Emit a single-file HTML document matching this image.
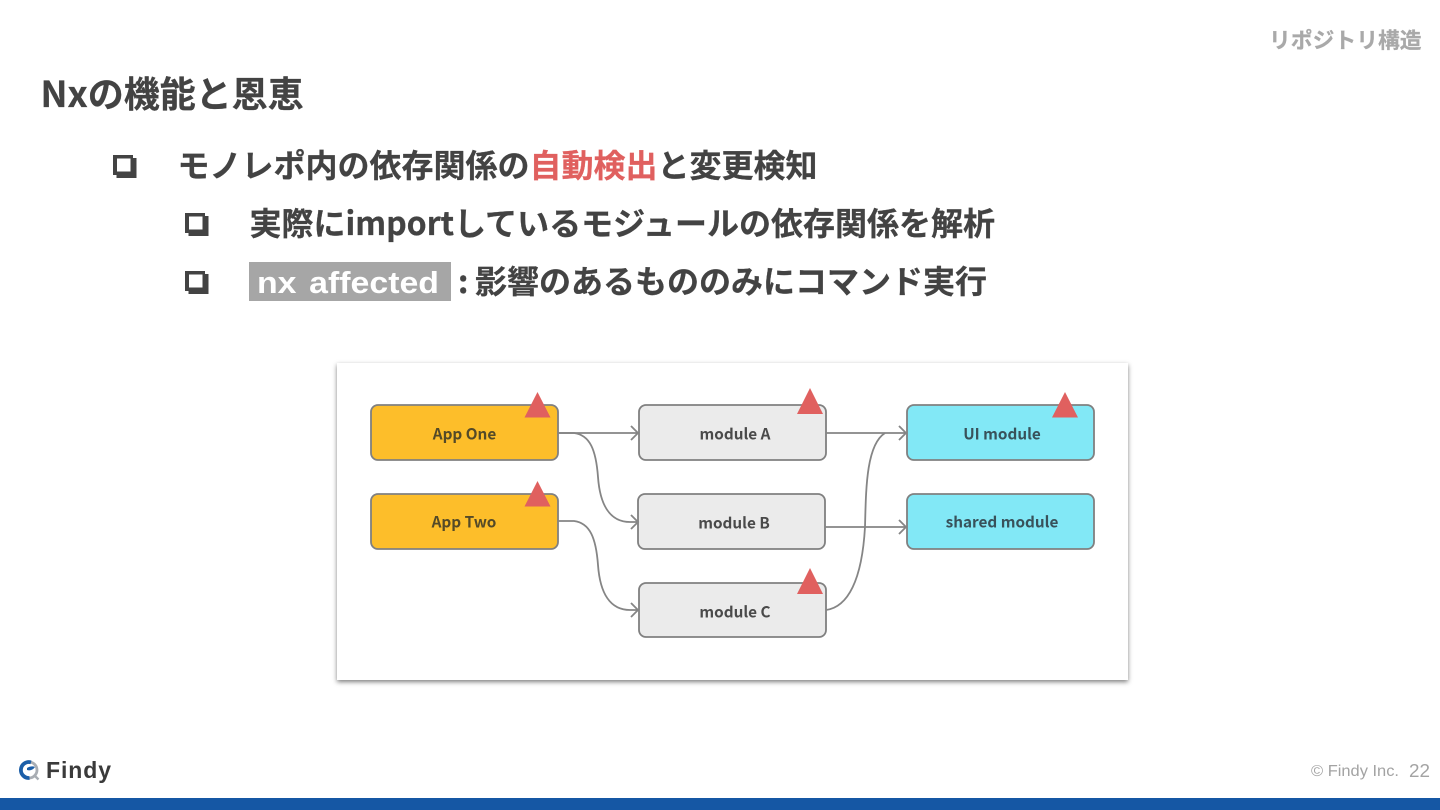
<!DOCTYPE html>
<html lang="ja">
<head>
<meta charset="utf-8">
<style>
html,body{margin:0;padding:0;background:#fff;width:1440px;height:810px;overflow:hidden}
svg{display:block;position:absolute;left:0;top:0}
.j{font-family:"Noto Sans CJK JP",sans-serif;font-weight:700;fill:#434343;stroke:#434343;stroke-width:.25}
.n{font-family:"Noto Sans CJK JP",sans-serif;font-weight:700;font-size:15.3px;text-anchor:middle}
.box{stroke:#808080;stroke-width:1.8}
.c{fill:none;stroke:#858585;stroke-width:1.8}
.tri{fill:#e0605f}
</style>
</head>
<body>
<svg width="1440" height="810" viewBox="0 0 1440 810" xmlns="http://www.w3.org/2000/svg">
<defs>
<filter id="sh" x="-5%" y="-5%" width="110%" height="112%"><feDropShadow dx="0" dy="2" stdDeviation="2.5" flood-color="#000" flood-opacity=".5"/></filter>
</defs>
<rect width="1440" height="810" fill="#fff"/>

<text class="j" x="1269" y="48" font-size="21.8" style="fill:#a9a9a9;stroke:#a9a9a9">リポジトリ構造</text>
<text class="j" x="40.500" y="107" font-size="36">Nxの機能と恩恵</text>

<g fill="#434343" fill-rule="evenodd">
<path d="M113 155H133V158H136.500V178H116.500V175H113ZM117 158.500V171.500H130.500V158.500Z"/>
<path d="M185 213H205V216H208.500V236H188.500V233H185ZM189 216.500V229.500H202.500V216.500Z"/>
<path d="M185 271H205V274H208.500V294H188.500V291H185ZM189 274.500V287.500H202.500V274.500Z"/>
</g>

<text class="j" x="177.500" y="177" font-size="32">モノレポ内の依存関係の<tspan style="fill:#e0605f;stroke:#e0605f">自動検出</tspan>と変更検知</text>
<text class="j" x="249.500" y="235" font-size="32">実際にimportしているモジュールの依存関係を解析</text>
<rect x="249" y="262" width="202" height="39" fill="#a6a6a6"/>
<text x="257" y="293" font-family="'Liberation Sans',sans-serif" font-weight="700" font-size="31" fill="#fff" textLength="182" lengthAdjust="spacingAndGlyphs" word-spacing="3">nx affected</text>
<text class="j" x="458" y="293" font-size="32">:</text>
<text class="j" x="475" y="293" font-size="32">影響のあるもののみにコマンド実行</text>

<rect x="337" y="363" width="791" height="317" fill="#fff" filter="url(#sh)"/>

<rect class="box" x="371" y="405" width="187" height="55" rx="7" fill="#fdbe2a"/>
<rect class="box" x="371" y="494" width="187" height="55" rx="7" fill="#fdbe2a"/>
<rect class="box" x="639" y="405" width="187" height="55" rx="7" fill="#ebebeb"/>
<rect class="box" x="638" y="494" width="187" height="55" rx="7" fill="#ebebeb"/>
<rect class="box" x="639" y="583" width="187" height="54" rx="7" fill="#ebebeb"/>
<rect class="box" x="907" y="405" width="187" height="55" rx="7" fill="#82e8f6"/>
<rect class="box" x="907" y="494" width="187" height="55" rx="7" fill="#82e8f6"/>

<text class="n" x="464.500" y="439.500" style="fill:#544a28">App One</text>
<text class="n" x="464" y="527.500" style="fill:#544a28">App Two</text>
<text class="n" x="735" y="439.500" style="fill:#4a4a4a">module A</text>
<text class="n" x="734" y="528.500" style="fill:#4a4a4a">module B</text>
<text class="n" x="735" y="617.500" style="fill:#4a4a4a">module C</text>
<text class="n" x="1002" y="439.500" style="fill:#38515a">UI module</text>
<text class="n" x="1002" y="527.500" style="fill:#38515a">shared module</text>

<path class="c" d="M558 433H638M631 426l7 7-7 7"/>
<path class="c" d="M558 433H574C590 435 596 450 598 477C600 505 610 522 630 522H638M631 515l7 7-7 7"/>
<path class="c" d="M558 521H574C590 523 596 538 598 565C600 593 610 610 630 610H638M631 603l7 7-7 7"/>
<path class="c" d="M826 433H906M899 426l7 7-7 7"/>
<path class="c" d="M825 527H906M899 520l7 7-7 7"/>
<path class="c" d="M826 610C848 607 862 580 865 527C866 490 866 445 885 433"/>

<path class="tri" d="M537.500 392L550.500 417.500H524.500Z"/>
<path class="tri" d="M537.500 481L550.500 506.500H524.500Z"/>
<path class="tri" d="M810 388L823 414H797Z"/>
<path class="tri" d="M810 568L823 594H797Z"/>
<path class="tri" d="M1065 392L1078 417.500H1052Z"/>

<circle cx="29" cy="770" r="8" fill="none" stroke="#a8adb3" stroke-width="2.800"/>
<path d="M35 776l3.500 3.500" stroke="#a8adb3" stroke-width="2.400"/>
<path d="M31 762.300A8 8 0 1 0 29.500 778" fill="none" stroke="#1b5ea8" stroke-width="3.800"/>
<path d="M27 768C30 766 33 766 35 767C33 770 30 771 27 770Z" fill="#1b5ea8"/>
<text x="46" y="778" font-family="'Liberation Sans',sans-serif" font-weight="700" font-size="23" fill="#3a3a3a" textLength="65" lengthAdjust="spacing">Findy</text>

<text x="1311" y="776" font-family="'Liberation Sans',sans-serif" font-size="15.500" fill="#a3a3a3" textLength="88" lengthAdjust="spacingAndGlyphs">© Findy Inc.</text>
<text x="1409" y="777" font-family="'Liberation Sans',sans-serif" font-size="18" fill="#a3a3a3" textLength="21" lengthAdjust="spacingAndGlyphs">22</text>

<rect x="0" y="798" width="1440" height="12" fill="#1557a4"/>
</svg>
</body>
</html>
